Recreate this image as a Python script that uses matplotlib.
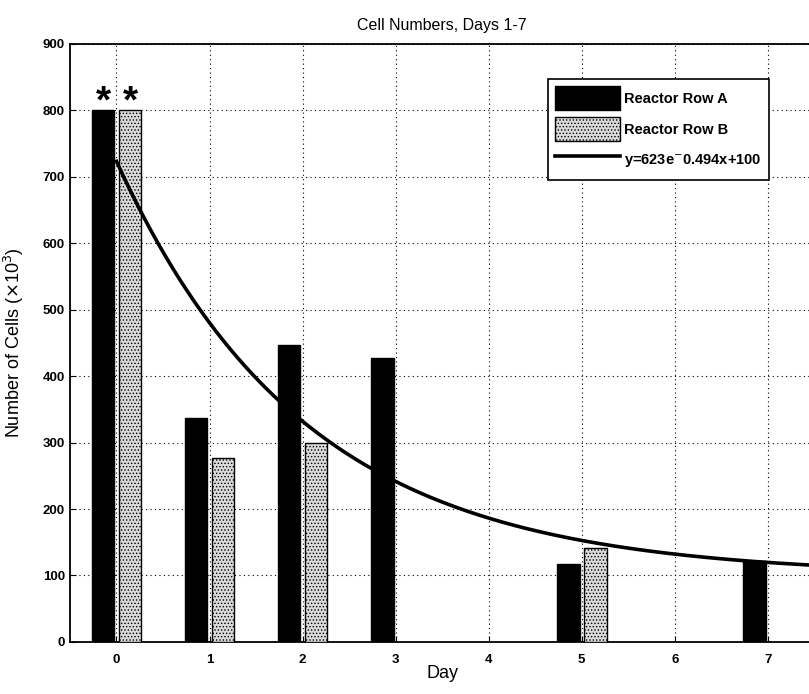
import numpy as np
import matplotlib
matplotlib.use("Agg")
import matplotlib.pyplot as plt

plt.rcParams['font.family'] = ['Liberation Sans', 'DejaVu Sans']
plt.rcParams['hatch.linewidth'] = 0.6
plt.rcParams['hatch.color'] = '#707070'

# Data
days_a = [0, 1, 2, 3, 5, 7]
cells_a = [800, 337, 447, 427, 117, 122]
days_b = [0, 1, 2, 5]
cells_b = [800, 277, 300, 142]

# fit parameters from the legend: y = a*exp(-b*x) + c
fit_a = 623
fit_b = 0.494
fit_c = 100

fig = plt.figure(figsize=(8.09, 6.94), dpi=100)
ax = fig.add_axes([0.0865, 0.075, 0.92, 0.862])

w = 0.245
off = 0.145
ba = ax.bar(np.array(days_a) - off, cells_a, width=w, color='black',
            edgecolor='black', label='Reactor Row A', zorder=3)
bb = ax.bar(np.array(days_b) + off, cells_b, width=w, color='#dadada',
            edgecolor='black', hatch='.....', linewidth=1.0,
            label='Reactor Row B', zorder=3)

x = np.linspace(0, 7.6, 300)
ln, = ax.plot(x, fit_a * np.exp(-fit_b * x) + fit_c, color='black', lw=2.6,
              label=r'y=623e$^{-}$0.494x+100', zorder=4)

# asterisks over day 0
for d in [-off, off]:
    ax.text(d, 812, '*', ha='center', va='center', fontsize=28,
            fontweight='bold')

ax.set_xlim(-0.5, 7.5)
ax.set_ylim(0, 900)
ax.set_xticks(range(8))
ax.set_yticks(range(0, 901, 100))
ax.tick_params(direction='in', labelsize=9.5, length=4)
for lbl in ax.get_xticklabels() + ax.get_yticklabels():
    lbl.set_fontweight('bold')
ax.tick_params(axis='x', pad=9)
ax.grid(True, color='black', linestyle=(0, (1, 3)), linewidth=0.8, zorder=0)
ax.set_axisbelow(True)
for s in ax.spines.values():
    s.set_linewidth(1.3)

ax.set_title('Cell Numbers, Days 1-7', fontsize=11.5, pad=10)
ax.set_xlabel('Day', fontsize=13, labelpad=-1)
ax.set_ylabel(r'Number of Cells ($\times$10$^3$)', fontsize=13, labelpad=12)

leg = ax.legend([ba, bb, ln], ['Reactor Row A', 'Reactor Row B',
                               r'y=623e$^{-}$0.494x+100'],
                loc='upper left', bbox_to_anchor=(0.6425, 0.9415),
                borderaxespad=0,
                fancybox=False, framealpha=1, edgecolor='black',
                handlelength=4.4, handleheight=2.2, handletextpad=0.3,
                borderpad=0.5, labelspacing=0.45,
                prop={'weight': 'bold', 'size': 10.5})
leg.get_frame().set_linewidth(1.2)

fig.savefig('out.png', dpi=100)
